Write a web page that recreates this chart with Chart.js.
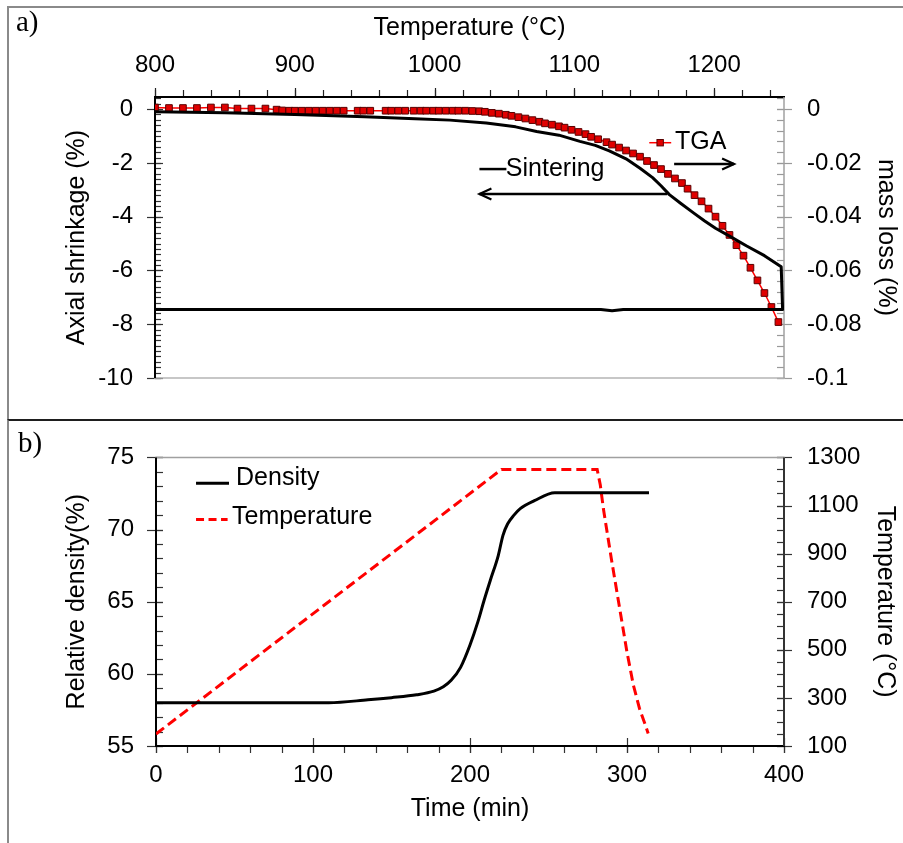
<!DOCTYPE html>
<html>
<head>
<meta charset="utf-8">
<script src="https://cdn.jsdelivr.net/npm/chart.js@4.4.0/dist/chart.umd.min.js"></script>
<style>
  html, body { margin: 0; padding: 0; background: #fff; }
  body { width: 903px; height: 843px; position: relative; overflow: hidden; }
  .box { position: absolute; left: 7px; width: 910px; }
  #boxA { top: 6px; height: 413px; border-top: 2px solid #8a8a8a; border-left: 2px solid #8a8a8a; }
  #boxB { top: 419px; height: 440px; border-top: 2px solid #1e1e1e; border-left: 2px solid #8a8a8a; }
  .tag { position: absolute; font-family: 'Liberation Serif', 'Times New Roman', serif; font-size: 29px; line-height: 29px; color: #000; }
  canvas { position: absolute; left: 0; }
  #chartA { top: 0; }
  #chartB { top: 420px; }
</style>
</head>
<body>
<div class="box" id="boxA"></div>
<div class="box" id="boxB"></div>
<canvas id="chartA" width="903" height="420"></canvas>
<canvas id="chartB" width="903" height="423"></canvas>
<div class="tag" style="left:16px; top:7px;">a)</div>
<div class="tag" style="left:18px; top:428px;">b)</div>
<script>
// ---- panel a : sintering + TGA vs temperature ----
var tempTicksA = [800, 900, 1000, 1100, 1200];
var shrinkTicks = [0, -2, -4, -6, -8, -10];
var massTicks = [0, -0.02, -0.04, -0.06, -0.08, -0.1];

// sintering loop: heating, hold at 1250, cooling back
var sinterTemp = [800, 850, 900, 950, 986, 1011, 1037, 1058, 1073, 1089, 1104, 1115, 1125, 1137, 1147, 1156, 1162, 1168, 1176, 1185, 1193, 1201, 1212, 1223, 1236, 1248, 1249, 1135, 1127, 1119, 800];
var sinterShrink = [-0.1, -0.14, -0.2, -0.28, -0.36, -0.41, -0.52, -0.66, -0.83, -0.97, -1.2, -1.35, -1.55, -1.85, -2.2, -2.55, -2.85, -3.18, -3.5, -3.85, -4.15, -4.43, -4.75, -5.08, -5.45, -5.86, -7.45, -7.45, -7.5, -7.45, -7.45];

var tgaTemp = [800, 810, 820, 830, 840, 850, 859, 869, 879, 887,
  891, 896, 900, 905, 910, 915, 920, 925, 930, 935,
  945, 949, 954, 965, 969, 974, 979, 985, 990, 994,
  999, 1003, 1008, 1013, 1017, 1022, 1027, 1032, 1036, 1041,
  1046, 1051, 1055, 1060, 1065, 1070, 1075, 1079, 1084, 1089,
  1093, 1098, 1103, 1108, 1112, 1117, 1123, 1127, 1132, 1137,
  1142, 1147, 1152, 1157, 1162, 1167, 1172, 1177, 1181, 1186,
  1191, 1196, 1201, 1206, 1211, 1216, 1221, 1226, 1231, 1236,
  1241, 1246];
var tgaMass = [0.0006, 0.0004, 0.0004, 0.0004, 0.0006, 0.0006, 0.0002, 0.0002, 0.0002, -0.0002,
  -0.0005, -0.0006, -0.0006, -0.0006, -0.0006, -0.0006, -0.0006, -0.0006, -0.0006, -0.0006,
  -0.0006, -0.0006, -0.0006, -0.0006, -0.0006, -0.0006, -0.0006, -0.0006, -0.0006, -0.0006,
  -0.0006, -0.0006, -0.0006, -0.0006, -0.0006, -0.0006, -0.0007, -0.0008, -0.001, -0.0014,
  -0.0017, -0.0021, -0.0025, -0.003, -0.0035, -0.0041, -0.0047, -0.0053, -0.0058, -0.0064,
  -0.0069, -0.0077, -0.0085, -0.0093, -0.0103, -0.0112, -0.0123, -0.0132, -0.0143, -0.0154,
  -0.0165, -0.0177, -0.0193, -0.0208, -0.0223, -0.0241, -0.0258, -0.0275, -0.0296, -0.032,
  -0.0343, -0.037, -0.04, -0.0434, -0.0468, -0.0506, -0.0545, -0.059, -0.0637, -0.0684,
  -0.0736, -0.0792];

// ---- panel b : density + temperature vs time ----
var timeTicks = [0, 100, 200, 300, 400];
var densTicks = [55, 60, 65, 70, 75];
var tempTicksB = [100, 300, 500, 700, 900, 1100, 1300];

var densTime = [0, 110, 135, 150, 166, 177, 183, 188, 194, 200, 205, 209, 213, 218, 221, 224, 228, 232, 241, 254, 314];
var densValue = [58.0, 58.0, 58.2, 58.35, 58.55, 58.8, 59.1, 59.55, 60.45, 62.0, 63.6, 65.1, 66.5, 68.2, 69.6, 70.4, 71.0, 71.45, 72.0, 72.55, 72.55];

var tempTime = [0, 220, 281, 283, 285, 290, 295, 300, 304, 308, 311, 313.5];
var tempValue = [150, 1250, 1250, 1185, 1085, 880, 685, 490, 355, 255, 200, 152];

var FONT = "'Liberation Sans', Arial, sans-serif";

function pts(xs, ys) {
    return xs.map(function(x, i){ return {x: x, y: ys[i]}; });
}

function fixedTicks(list) {
    return function(scale){ scale.ticks = list.map(function(v){ return {value: v}; }); };
}

function axis(pos, min, max, list, size, pad, title, titlePad) {
    var horiz = pos === 'top' || pos === 'bottom';
    return {
        type: 'linear', position: pos, min: min, max: max,
        afterBuildTicks: fixedTicks(list),
        afterFit: function(s){ if (horiz) { s.height = size; } else { s.width = size; } },
        grid: {display: false, drawTicks: false},
        border: {display: false},
        ticks: {
            padding: pad, color: '#000', autoSkip: false, maxRotation: 0,
            font: {family: FONT, size: 24},
            callback: function(v){ return String(v); }
        },
        title: {display: true, text: title, color: '#000', font: {family: FONT, size: 25}, padding: titlePad}
    };
}

// axis lines and tick marks, drawn from the scales
function framePlugin(cfg) {
    return {
        id: 'frame',
        beforeDatasetsDraw: function(chart) {
            var ctx = chart.ctx, a = chart.chartArea;
            ctx.save();
            cfg.ticks.forEach(function(t){
                var s = chart.scales[t.scale];
                ctx.strokeStyle = t.color;
                ctx.lineWidth = 1.2;
                [[t.minor, 0, t.minorIn, t.minorOut], [t.major, t.base || 0, t.majorIn, t.majorOut]].forEach(function(m){
                    var step = m[0], base = m[1], tin = m[2], tout = m[3];
                    var k = Math.ceil((s.min - base) / step - 1e-6);
                    for (; base + k * step <= s.max + step * 1e-6; k++) {
                        var p = Math.round(s.getPixelForValue(base + k * step)) + 0.5;
                        ctx.beginPath();
                        if (s.isHorizontal()) {
                            var y0 = s.position === 'top' ? a.top : a.bottom;
                            var d = s.position === 'top' ? -1 : 1;
                            ctx.moveTo(p, y0 - d * tin); ctx.lineTo(p, y0 + d * tout);
                        } else {
                            var x0 = s.position === 'left' ? a.left : a.right;
                            var dx = s.position === 'left' ? -1 : 1;
                            ctx.moveTo(x0 - dx * tin, p); ctx.lineTo(x0 + dx * tout, p);
                        }
                        ctx.stroke();
                    }
                });
            });
            var sd = cfg.sides;
            function edge(st, x1, y1, x2, y2) {
                ctx.strokeStyle = st[0]; ctx.lineWidth = st[1];
                ctx.beginPath(); ctx.moveTo(x1, y1); ctx.lineTo(x2, y2); ctx.stroke();
            }
            edge(sd.top, a.left - 1, a.top, a.right + 1, a.top);
            edge(sd.bottom, a.left - 1, a.bottom, a.right + 1, a.bottom);
            edge(sd.left, a.left, a.top, a.left, a.bottom);
            edge(sd.right, a.right, a.top, a.right, a.bottom);
            ctx.restore();
        }
    };
}

// in-plot labels, legend samples and arrows, placed in data units
function notesPlugin(items, xs, ys) {
    return {
        id: 'notes',
        afterDraw: function(chart) {
            var ctx = chart.ctx, sx = chart.scales[xs], sy = chart.scales[ys];
            ctx.save();
            items.forEach(function(it){
                var y = sy.getPixelForValue(it.y);
                if (it.type === 'text') {
                    ctx.fillStyle = '#000';
                    ctx.font = '25px ' + FONT;
                    ctx.textAlign = 'left'; ctx.textBaseline = 'middle';
                    ctx.fillText(it.text, sx.getPixelForValue(it.x), y);
                } else if (it.type === 'line' || it.type === 'arrow') {
                    var x1 = sx.getPixelForValue(it.x[0]), x2 = sx.getPixelForValue(it.x[1]);
                    ctx.strokeStyle = it.color || '#000';
                    ctx.lineWidth = it.width;
                    ctx.setLineDash(it.dash || []);
                    ctx.beginPath(); ctx.moveTo(x1, y); ctx.lineTo(x2, y); ctx.stroke();
                    ctx.setLineDash([]);
                    if (it.type === 'arrow') {
                        var d = x2 > x1 ? -1 : 1;
                        ctx.lineWidth = 2.2;
                        ctx.beginPath();
                        ctx.moveTo(x2 + d * 12, y - 5.5); ctx.lineTo(x2, y); ctx.lineTo(x2 + d * 12, y + 5.5);
                        ctx.stroke();
                    }
                } else if (it.type === 'marker') {
                    var px = sx.getPixelForValue(it.x);
                    ctx.fillStyle = '#e00000'; ctx.strokeStyle = '#5a0000'; ctx.lineWidth = 1;
                    ctx.fillRect(px - 3.2, y - 3.2, 6.4, 6.4);
                    ctx.strokeRect(px - 3.2, y - 3.2, 6.4, 6.4);
                }
            });
            ctx.restore();
        }
    };
}

var notesA = [
    {type: 'line', x: [1153.6, 1169.3], y: -1.25, color: '#ff0000', width: 1.5},
    {type: 'marker', x: 1161.4, y: -1.25},
    {type: 'text', text: 'TGA', x: 1172, y: -1.22},
    {type: 'arrow', x: [1171.4, 1214.3], y: -2.04, width: 2.5},
    {type: 'line', x: [1032.1, 1051.4], y: -2.23, width: 2.5},
    {type: 'text', text: 'Sintering', x: 1051, y: -2.25},
    {type: 'arrow', x: [1166.4, 1032.1], y: -3.16, width: 2.5}
];

var notesB = [
    {type: 'line', x: [25.5, 46.5], y: 73.21, width: 3},
    {type: 'text', text: 'Density', x: 51, y: 73.54},
    {type: 'line', x: [25.5, 45.6], y: 70.69, color: '#ff0000', width: 3, dash: [8, 4.5]},
    {type: 'text', text: 'Temperature', x: 48.4, y: 70.88}
];

new Chart(document.getElementById('chartA'), {
    type: 'line',
    data: {
        datasets: [{
            label: 'Sintering',
            data: pts(sinterTemp, sinterShrink),
            yAxisID: 'yL',
            borderColor: '#000', borderWidth: 3, pointRadius: 0, tension: 0,
            borderJoinStyle: 'round'
        }, {
            label: 'TGA',
            data: pts(tgaTemp, tgaMass),
            yAxisID: 'yR',
            borderColor: '#ff0000', borderWidth: 1.5, tension: 0,
            pointStyle: 'rect', pointRadius: 4.7,
            pointBackgroundColor: '#e00000', pointBorderColor: '#5a0000', pointBorderWidth: 1
        }]
    },
    options: {
        responsive: false, animation: false,
        layout: {padding: {left: 0, right: 0, top: 0, bottom: 42}},
        plugins: {legend: {display: false}, tooltip: {enabled: false}},
        scales: {
            x: axis('top', 800, 1250, tempTicksA, 97, 17, 'Temperature (°C)', {top: 13, bottom: 0}),
            yL: axis('left', -10, 0.45, shrinkTicks, 155, 22, 'Axial shrinkage (%)', {top: 62, bottom: 0}),
            yR: axis('right', -0.1, 0.0045, massTicks, 119, 23, 'mass loss (%)', {top: 2, bottom: 0})
        }
    },
    plugins: [
        framePlugin({
            sides: {top: ['#000', 2], left: ['#000', 2], right: ['#a0a0a0', 1.5], bottom: ['#b4b4b4', 1.5]},
            ticks: [
                {scale: 'x', major: 100, majorIn: 0, majorOut: 9, minor: 20, minorIn: 0, minorOut: 7, color: '#222'},
                {scale: 'yL', major: 2, majorIn: 8, majorOut: 8, minor: 0.2, minorIn: 6, minorOut: 0, color: '#333'},
                {scale: 'yR', major: 0.02, majorIn: 7, majorOut: 8, minor: 0.004, minorIn: 7, minorOut: 0, color: '#999'}
            ]
        }),
        notesPlugin(notesA, 'x', 'yL')
    ]
});

new Chart(document.getElementById('chartB'), {
    type: 'line',
    data: {
        datasets: [{
            label: 'Density',
            data: pts(densTime, densValue),
            yAxisID: 'yL',
            borderColor: '#000', borderWidth: 3, pointRadius: 0,
            cubicInterpolationMode: 'monotone'
        }, {
            label: 'Temperature',
            data: pts(tempTime, tempValue),
            yAxisID: 'yR',
            borderColor: '#ff0000', borderWidth: 3, pointRadius: 0, tension: 0,
            borderDash: [10, 5]
        }]
    },
    options: {
        responsive: false, animation: false,
        layout: {padding: {left: 0, right: 0, top: 35, bottom: 0}},
        plugins: {legend: {display: false}, tooltip: {enabled: false}},
        scales: {
            x: axis('bottom', 0, 400, timeTicks, 97, 15, 'Time (min)', {top: 0, bottom: 19}),
            yL: axis('left', 55, 75, densTicks, 156, 22, 'Relative density(%)', {top: 62, bottom: 0}),
            yR: axis('right', 100, 1300, tempTicksB, 119, 23, 'Temperature (°C)', {top: 3, bottom: 0})
        }
    },
    plugins: [
        framePlugin({
            sides: {top: ['#a0a0a0', 1.5], left: ['#000', 2], right: ['#333', 2], bottom: ['#000', 2]},
            ticks: [
                {scale: 'x', major: 100, majorIn: 8, majorOut: 7, minor: 20, minorIn: 0, minorOut: 7, color: '#333'},
                {scale: 'yL', major: 5, majorIn: 7, majorOut: 9, minor: 1, minorIn: 7, minorOut: 0, color: '#333'},
                {scale: 'yR', major: 200, base: 100, majorIn: 7, majorOut: 8, minor: 50, minorIn: 7, minorOut: 0, color: '#333'}
            ]
        }),
        notesPlugin(notesB, 'x', 'yL')
    ]
});
</script>
</body>
</html>
